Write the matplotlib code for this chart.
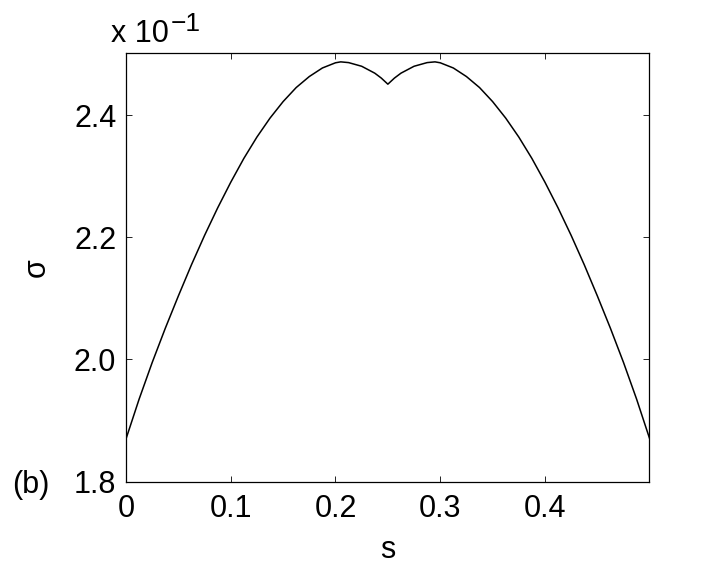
import matplotlib
matplotlib.use("Agg")
import matplotlib.pyplot as plt

plt.rcParams['font.family'] = ['Liberation Sans', 'DejaVu Sans']

# s values (left half up to the cusp, then mirrored right half)
s_vals = [0.0, 0.0125, 0.025, 0.0375, 0.05, 0.0625, 0.075, 0.0875, 0.1, 0.1125,
          0.125, 0.1375, 0.15, 0.1625, 0.175, 0.1875, 0.2, 0.205, 0.2125, 0.225,
          0.2375, 0.2437, 0.25,
          0.2563, 0.2625, 0.275, 0.2875, 0.295, 0.3, 0.3125, 0.325, 0.3375, 0.35,
          0.3625, 0.375, 0.3875, 0.4, 0.4125, 0.425, 0.4375, 0.45, 0.4625, 0.475,
          0.4875, 0.5]
# sigma in units of 10^-1
sigma_x10 = [1.870, 1.935, 1.995, 2.051, 2.104, 2.155, 2.203, 2.248, 2.290, 2.329,
             2.364, 2.395, 2.422, 2.445, 2.463, 2.477, 2.4855, 2.487, 2.4858, 2.4798,
             2.4685, 2.4605, 2.4505,
             2.4605, 2.4685, 2.4798, 2.4858, 2.487, 2.4855, 2.477, 2.463, 2.445, 2.422,
             2.395, 2.364, 2.329, 2.290, 2.248, 2.203, 2.155, 2.104, 2.051, 1.995,
             1.935, 1.870]

x_ticks = [0.0, 0.1, 0.2, 0.3, 0.4]
x_tick_labels = ['0', '0.1', '0.2', '0.3', '0.4']
y_ticks = [1.8, 2.0, 2.2, 2.4]
y_tick_labels = ['1.8', '2.0', '2.2', '2.4']

W, H = 706, 567
fig = plt.figure(figsize=(W / 100, H / 100), dpi=100)
ax = fig.add_axes([126 / W, 1 - 481.7 / H, (649.3 - 126) / W, (481.7 - 52.7) / H])

ax.plot(s_vals, sigma_x10, color='black', linewidth=1.1)

ax.set_xlim(0, 0.4996)
ax.set_ylim(1.8, 2.502)
ax.set_xticks(x_ticks)
ax.set_xticklabels(x_tick_labels)
ax.set_yticks(y_ticks)
ax.set_yticklabels(y_tick_labels)

ax.tick_params(direction='in', length=4, width=0.6, labelsize=22,
               top=True, right=True, colors='black')
ax.tick_params(axis='x', pad=9)
ax.tick_params(axis='y', pad=7)
for sp in ax.spines.values():
    sp.set_linewidth(0.9)
    sp.set_color('black')

ax.set_xlabel('s', fontsize=22, labelpad=8)
ax.set_ylabel('σ', fontsize=22, labelpad=16)

# exponent multiplier
fig.text(111 / W, 1 - 41.7 / H, 'x 10', fontsize=22, ha='left', va='baseline')
fig.text(171 / W, 1 - 31 / H, '\u22121', fontsize=19, ha='left', va='baseline')

# panel label
fig.text(12 / W, 1 - 493 / H, '(b)', fontsize=22, ha='left', va='baseline')

fig.savefig('out.png', dpi=100, facecolor='white')
